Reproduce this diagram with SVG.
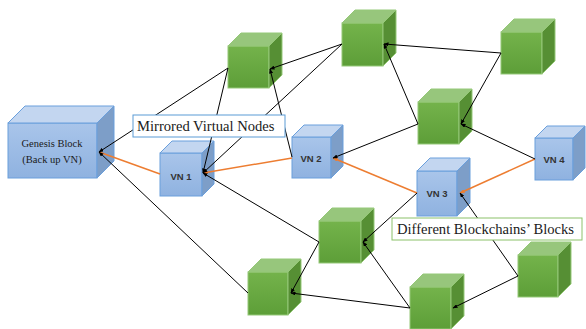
<svg xmlns="http://www.w3.org/2000/svg" width="586" height="329" viewBox="0 0 586 329">
<defs>
<linearGradient id="bf" x1="0" y1="0" x2="0" y2="1"><stop offset="0" stop-color="#a9c5ea"/><stop offset="1" stop-color="#8fb2e0"/></linearGradient>
<linearGradient id="gf" x1="0" y1="0" x2="0" y2="1"><stop offset="0" stop-color="#74b34b"/><stop offset="1" stop-color="#5d9e38"/></linearGradient>
<marker id="ab" markerWidth="5" markerHeight="4" refX="4.5" refY="2" orient="auto" markerUnits="userSpaceOnUse"><path d="M0,0 L5,2 L0,4 z" fill="#000"/></marker>
<marker id="ao" markerWidth="5" markerHeight="4" refX="4.5" refY="2" orient="auto" markerUnits="userSpaceOnUse"><path d="M0,0 L5,2 L0,4 z" fill="#ed7d31"/></marker>
<style>
.bfr{fill:url(#bf);stroke:#6a9fdc;stroke-width:1}
.btp{fill:#c3d6f0;stroke:#6a9fdc;stroke-width:1}
.brt{fill:#7d9ec8;stroke:#6a9fdc;stroke-width:1}
.gfr{fill:url(#gf);stroke:#95c878;stroke-width:1}
.gtp{fill:#97c67c;stroke:#95c878;stroke-width:1}
.grt{fill:#568f34;stroke:#95c878;stroke-width:1}
.vn{font-family:"Liberation Sans",Arial,sans-serif;font-size:9.5px;font-weight:bold;fill:#333;text-anchor:middle}
.ser{font-family:"Liberation Serif","Times New Roman",serif;fill:#1a1a1a}
.k{stroke:#000;stroke-width:1;fill:none;marker-end:url(#ab)}
.o{stroke:#ed7d31;stroke-width:1.5;fill:none;marker-end:url(#ao)}
.op{stroke:#ed7d31;stroke-width:1.5;fill:none}
</style>
</defs>
<rect width="586" height="329" fill="#fff"/>

<g id="genesis">
<rect class="bfr" x="8" y="123" width="89" height="55"/>
<polygon class="btp" points="8,123 25,106 114,106 97,123"/>
<polygon class="brt" points="97,123 114,106 114,161 97,178"/>
<text class="ser" x="52" y="147" font-size="10.5" text-anchor="middle">Genesis Block</text>
<text class="ser" x="52" y="163" font-size="10.5" text-anchor="middle">(Back up VN)</text>
</g>

<g id="vn1">
<rect class="bfr" x="160" y="153" width="42" height="43"/>
<polygon class="btp" points="160,153 172,141 214,141 202,153"/>
<polygon class="brt" points="202,153 214,141 214,184 202,196"/>
<text class="vn" x="181" y="180">VN 1</text>
</g>
<g id="vn2">
<rect class="bfr" x="292" y="137" width="39" height="41"/>
<polygon class="btp" points="292,137 304,125 343,125 331,137"/>
<polygon class="brt" points="331,137 343,125 343,166 331,178"/>
<text class="vn" x="311" y="162">VN 2</text>
</g>
<g id="vn3">
<rect class="bfr" x="417" y="171" width="40" height="45"/>
<polygon class="btp" points="417,171 430,158 470,158 457,171"/>
<polygon class="brt" points="457,171 470,158 470,203 457,216"/>
<text class="vn" x="437" y="197">VN 3</text>
</g>
<g id="vn4">
<rect class="bfr" x="535" y="138" width="38" height="42"/>
<polygon class="btp" points="535,138 547,126 585,126 573,138"/>
<polygon class="brt" points="573,138 585,126 585,168 573,180"/>
<text class="vn" x="554" y="163">VN 4</text>
</g>

<g id="g1">
<rect class="gfr" x="228" y="46" width="41" height="42"/>
<polygon class="gtp" points="228,46 241,33 282,33 269,46"/>
<polygon class="grt" points="269,46 282,33 282,75 269,88"/>
</g>
<g id="g2">
<rect class="gfr" x="342" y="23" width="41" height="43"/>
<polygon class="gtp" points="342,23 355,10 396,10 383,23"/>
<polygon class="grt" points="383,23 396,10 396,53 383,66"/>
</g>
<g id="g3">
<rect class="gfr" x="501" y="32" width="41" height="42"/>
<polygon class="gtp" points="501,32 514,19 555,19 542,32"/>
<polygon class="grt" points="542,32 555,19 555,61 542,74"/>
</g>
<g id="g4">
<rect class="gfr" x="418" y="102" width="41" height="42"/>
<polygon class="gtp" points="418,102 431,89 472,89 459,102"/>
<polygon class="grt" points="459,102 472,89 472,131 459,144"/>
</g>
<g id="g5">
<rect class="gfr" x="319" y="221" width="42" height="42"/>
<polygon class="gtp" points="319,221 332,208 374,208 361,221"/>
<polygon class="grt" points="361,221 374,208 374,250 361,263"/>
</g>
<g id="g6">
<rect class="gfr" x="248" y="272" width="40" height="43"/>
<polygon class="gtp" points="248,272 261,259 301,259 288,272"/>
<polygon class="grt" points="288,272 301,259 301,302 288,315"/>
</g>
<g id="g7">
<rect class="gfr" x="410" y="287" width="41" height="42"/>
<polygon class="gtp" points="410,287 423,274 464,274 451,287"/>
<polygon class="grt" points="451,287 464,274 464,316 451,329"/>
</g>
<g id="g8">
<rect class="gfr" x="518" y="255" width="40" height="42"/>
<polygon class="gtp" points="518,255 531,242 571,242 558,255"/>
<polygon class="grt" points="558,255 571,242 571,284 558,297"/>
</g>

<g id="connectors">
<line class="op" x1="160" y1="174" x2="99" y2="152"/>
<line class="o" x1="292" y1="158" x2="203" y2="173"/>
<line class="o" x1="417" y1="193" x2="333" y2="158"/>
<line class="o" x1="535" y1="159" x2="460" y2="193"/>
<line class="k" x1="228" y1="68" x2="99" y2="152"/>
<line class="k" x1="248" y1="293" x2="99" y2="152"/>
<line class="k" x1="228" y1="68" x2="203" y2="173"/>
<line class="k" x1="342" y1="44" x2="203" y2="173"/>
<line class="k" x1="319" y1="242" x2="203" y2="173"/>
<line class="k" x1="342" y1="44" x2="270" y2="69"/>
<line class="k" x1="292" y1="157" x2="270" y2="69"/>
<line class="k" x1="501" y1="53" x2="384" y2="44"/>
<line class="k" x1="418" y1="124" x2="384" y2="44"/>
<line class="k" x1="501" y1="53" x2="461" y2="124"/>
<line class="k" x1="535" y1="159" x2="461" y2="124"/>
<line class="k" x1="418" y1="124" x2="333" y2="158"/>
<line class="k" x1="417" y1="193" x2="363" y2="242"/>
<line class="k" x1="410" y1="308" x2="363" y2="242"/>
<line class="k" x1="518" y1="276" x2="460" y2="193"/>
<line class="k" x1="518" y1="276" x2="453" y2="308"/>
<line class="k" x1="319" y1="242" x2="291" y2="293"/>
<line class="k" x1="410" y1="308" x2="291" y2="293"/>
</g>

<g id="label-mirrored">
<rect x="133" y="115" width="152" height="22" fill="#fff" stroke="#5b9bd5" stroke-width="1"/>
<text class="ser" x="137" y="131" font-size="14.6">Mirrored Virtual Nodes</text>
</g>
<g id="label-different">
<rect x="392" y="218" width="190" height="22" fill="#fff" stroke="#8cc26a" stroke-width="1"/>
<text class="ser" x="397" y="234" font-size="14.6">Different Blockchains’ Blocks</text>
</g>
</svg>
